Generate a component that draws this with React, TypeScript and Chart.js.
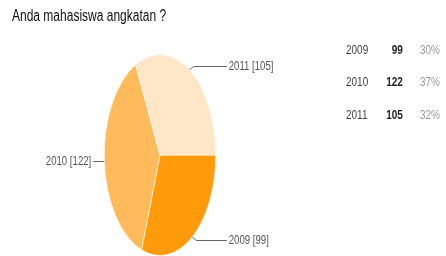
import React, { useEffect, useRef } from "react";
import { Chart, registerables } from "chart.js";

Chart.register(...registerables);

const title = "Anda mahasiswa angkatan ?";
const years = ["2009", "2010", "2011"];
const counts = [99, 122, 105];
const colors = ["#FF9A0A", "#FFBA5C", "#FFE6C6"];

const FONT = '"Liberation Sans", Arial, sans-serif';
const NARROW = 0.8; // horizontal text compression (narrow face look)
const SX = 0.555; // horizontal squash of the pie (drawn as an ellipse)

const total = counts.reduce((a, b) => a + b, 0);
const percents = counts.map((v) => Math.round((v / total) * 100) + "%");

const ellipsePlugin = {
  id: "ellipsePie",
  beforeDatasetsDraw(chart: any) {
    const meta = chart.getDatasetMeta(0);
    const a = meta.data[0];
    const ctx = chart.ctx;
    ctx.save();
    ctx.translate(a.x, 0);
    ctx.scale(SX, 1);
    ctx.translate(-a.x, 0);
  },
  afterDatasetsDraw(chart: any) {
    const ctx = chart.ctx;
    ctx.restore();
    const meta = chart.getDatasetMeta(0);
    ctx.save();
    ctx.font = "12px " + FONT;
    ctx.fillStyle = "#555";
    ctx.strokeStyle = "#666";
    ctx.lineWidth = 1;
    ctx.textBaseline = "middle";
    const drawText = (txt: string, x: number, y: number, dir: number) => {
      ctx.save();
      ctx.translate(x, y);
      ctx.scale(NARROW, 1);
      ctx.textAlign = dir > 0 ? "left" : "right";
      ctx.fillText(txt, 0, 0);
      ctx.restore();
    };
    meta.data.forEach((arc: any, i: number) => {
      const mid = (arc.startAngle + arc.endAngle) / 2;
      const rx = arc.outerRadius * SX;
      const ry = arc.outerRadius;
      const c = Math.cos(mid);
      const s = Math.sin(mid);
      const px = arc.x + c * rx;
      const py = arc.y + s * ry;
      const label = years[i] + " [" + counts[i] + "]";
      const dir = c >= 0 ? 1 : -1;
      const endX = arc.x + dir * (rx + 11);
      if (Math.abs(s) < 0.3) {
        const ly = Math.round(py) + 0.5;
        ctx.beginPath();
        ctx.moveTo(px, ly);
        ctx.lineTo(endX, ly);
        ctx.stroke();
        drawText(label, endX + dir * 2, ly, dir);
      } else {
        const ly = Math.round(py + (s > 0 ? 3 : -4)) + 0.5;
        ctx.beginPath();
        ctx.moveTo(px, py);
        ctx.lineTo(px + dir * 4, ly);
        ctx.lineTo(endX, ly);
        ctx.stroke();
        drawText(label, endX + dir * 2, ly, dir);
      }
    });
    ctx.restore();
  },
};

export default function App() {
  const ref = useRef<HTMLCanvasElement | null>(null);

  useEffect(() => {
    if (!ref.current) return;
    const chart = new Chart(ref.current, {
      type: "pie",
      data: {
        labels: years,
        datasets: [
          {
            data: counts,
            backgroundColor: colors,
            borderColor: "rgba(255,255,255,0.8)",
            borderWidth: 1,
          },
        ],
      },
      options: {
        responsive: false,
        animation: false,
        events: [],
        rotation: 90,
        layout: { padding: { top: 54, bottom: 0, left: 59, right: 185 } },
        plugins: {
          legend: { display: false },
          tooltip: { enabled: false },
          title: { display: false },
        },
      },
      plugins: [ellipsePlugin],
    });
    return () => chart.destroy();
  }, []);

  const rowTops = [50, 82, 115];
  const narrowLeft: React.CSSProperties = {
    transform: `scaleX(${NARROW})`,
    transformOrigin: "left center",
    whiteSpace: "nowrap",
  };
  const narrowRight: React.CSSProperties = {
    transform: `scaleX(${NARROW})`,
    transformOrigin: "right center",
    whiteSpace: "nowrap",
  };

  return (
    <div
      style={{
        position: "absolute",
        left: 0,
        top: 0,
        width: 446,
        height: 256,
        background: "#fff",
        overflow: "hidden",
        fontFamily: FONT,
      }}
    >
      <canvas
        ref={ref}
        width={446}
        height={256}
        style={{ position: "absolute", left: 0, top: 0 }}
      />
      <div
        style={{
          position: "absolute",
          left: 12,
          top: 6,
          fontSize: 16,
          color: "#111",
          lineHeight: "19px",
          ...narrowLeft,
          transform: "scaleX(0.75)",
        }}
      >
        {title}
      </div>
      {years.map((y, i) => (
        <div
          key={y}
          style={{
            position: "absolute",
            left: 0,
            top: rowTops[i] - 8,
            height: 16,
            width: 446,
            fontSize: 12.5,
            lineHeight: "16px",
          }}
        >
          <span style={{ position: "absolute", left: 346, color: "#444", ...narrowLeft }}>{y}</span>
          <span
            style={{
              position: "absolute",
              right: 446 - 403,
              color: "#222",
              fontWeight: "bold",
              ...narrowRight,
            }}
          >
            {counts[i]}
          </span>
          <span style={{ position: "absolute", left: 420, color: "#999", ...narrowLeft }}>
            {percents[i]}
          </span>
        </div>
      ))}
    </div>
  );
}
